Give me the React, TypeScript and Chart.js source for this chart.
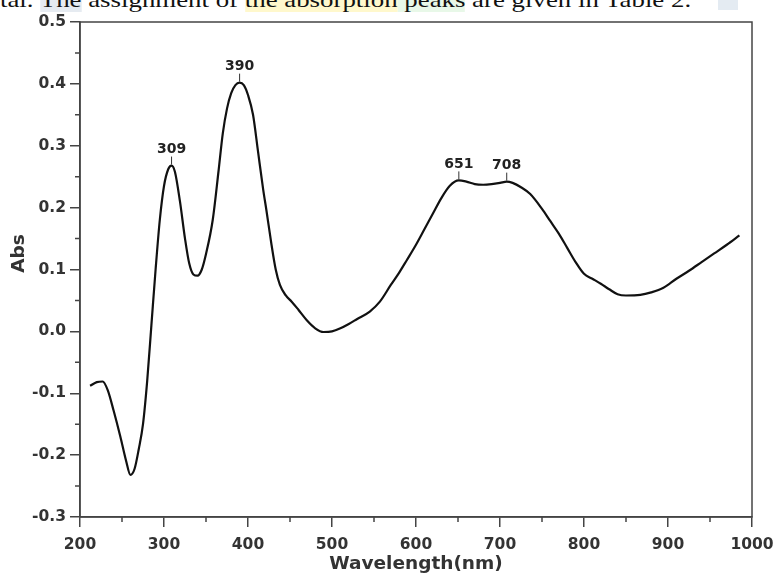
import React, { useEffect, useRef } from "react";
import { Chart, registerables } from "chart.js";

Chart.register(...registerables);

const wavelengths = [
  212, 220, 227, 233, 240, 248, 255, 260, 265, 270, 275, 280, 285, 290, 295, 300, 305, 309, 313, 319,
  325, 330, 335, 340, 345, 350, 358, 365, 370, 375, 380, 385, 390, 395, 400, 406, 412, 418, 422, 428,
  433, 438, 445, 452, 460, 470, 480, 490, 500, 510, 520, 530, 545, 557, 570, 580, 589, 600, 610, 620,
  630, 640, 651, 660, 670, 680, 690, 700, 708, 715, 725, 736, 750, 760, 770, 780, 790, 800, 810, 820,
  830, 840, 850, 867, 880, 894, 910, 925, 940, 955, 970, 985,
];
const absorbance = [
  -0.088, -0.082, -0.081, -0.095, -0.128, -0.17, -0.21, -0.232, -0.222, -0.19, -0.15, -0.08, 0.01, 0.1, 0.18, 0.235, 0.262, 0.268, 0.258, 0.21,
  0.15, 0.11, 0.092, 0.09, 0.1, 0.125, 0.18, 0.26, 0.32, 0.36, 0.385, 0.398, 0.402, 0.398, 0.382, 0.35, 0.29, 0.23, 0.195, 0.14,
  0.1, 0.075, 0.058, 0.048, 0.035, 0.018, 0.005, -0.001, 0.0, 0.005, 0.012, 0.02, 0.032, 0.048, 0.075, 0.095, 0.115, 0.14, 0.165, 0.19,
  0.215, 0.235, 0.244, 0.242, 0.238, 0.237, 0.238, 0.24, 0.242, 0.24, 0.233, 0.222, 0.198, 0.178, 0.158, 0.135, 0.112, 0.093, 0.085, 0.077,
  0.068, 0.06, 0.058, 0.059, 0.063, 0.07, 0.085, 0.098, 0.112, 0.126, 0.14, 0.155,
];
const peakWavelengths = [309, 390, 651, 708];
const peakAbs = [0.268, 0.402, 0.244, 0.242];
const peakLabels = ["309", "390", "651", "708"];

const xTitle = "Wavelength(nm)";
const yTitle = "Abs";
const xMin = 200, xMax = 1000, yMin = -0.3, yMax = 0.5;
const xStep = 100, yStep = 0.1;

const FONT = "'DejaVu Sans', Arial, sans-serif";
const AXIS = "#444";

const framePlugin = {
  id: "frame",
  afterDraw(chart: any) {
    const { ctx, chartArea: a, scales } = chart;
    ctx.save();
    ctx.strokeStyle = AXIS;
    ctx.lineWidth = 1.5;
    ctx.strokeRect(a.left, a.top, a.right - a.left, a.bottom - a.top);
    // minor ticks halfway between the axis' own major ticks
    const xt = scales.x.ticks.map((t: any) => t.value);
    const yt = scales.y.ticks.map((t: any) => t.value);
    ctx.beginPath();
    for (let i = 0; i < xt.length - 1; i++) {
      const px = scales.x.getPixelForValue((xt[i] + xt[i + 1]) / 2);
      ctx.moveTo(px, a.bottom);
      ctx.lineTo(px, a.bottom + 5);
    }
    for (let i = 0; i < yt.length - 1; i++) {
      const py = scales.y.getPixelForValue((yt[i] + yt[i + 1]) / 2);
      ctx.moveTo(a.left, py);
      ctx.lineTo(a.left - 5, py);
    }
    ctx.stroke();
    // y-axis title
    ctx.fillStyle = "#333";
    ctx.font = `bold 18.5px ${FONT}`;
    ctx.textAlign = "center";
    ctx.textBaseline = "middle";
    ctx.translate(19, (a.top + a.bottom) / 2 - 16);
    ctx.rotate(-Math.PI / 2);
    ctx.fillText(yTitle, 0, 0);
    ctx.restore();
  },
};

const peakPlugin = {
  id: "peaks",
  afterDatasetsDraw(chart: any) {
    const { ctx, scales } = chart;
    ctx.save();
    ctx.strokeStyle = "#333";
    ctx.lineWidth = 1;
    ctx.fillStyle = "#222";
    ctx.font = `bold 14px ${FONT}`;
    ctx.textAlign = "center";
    ctx.textBaseline = "bottom";
    peakWavelengths.forEach((w, i) => {
      const px = scales.x.getPixelForValue(w);
      const py = scales.y.getPixelForValue(peakAbs[i]);
      ctx.beginPath();
      ctx.moveTo(px, py - 1);
      ctx.lineTo(px, py - 9);
      ctx.stroke();
      ctx.fillText(peakLabels[i], px, py - 9);
    });
    ctx.restore();
  },
};

export default function App() {
  const ref = useRef<HTMLCanvasElement>(null);
  useEffect(() => {
    if (!ref.current) return;
    const chart = new Chart(ref.current, {
      type: "line",
      data: {
        datasets: [
          {
            data: wavelengths.map((w, i) => ({ x: w, y: absorbance[i] })),
            borderColor: "#111",
            borderWidth: 2.2,
            pointRadius: 0,
            fill: false,
            cubicInterpolationMode: "monotone",
          },
        ],
      },
      options: {
        animation: false,
        responsive: false,
        devicePixelRatio: 1,
        layout: { padding: { top: 22, right: 22, left: 0, bottom: 0 } },
        plugins: { legend: { display: false }, tooltip: { enabled: false } },
        scales: {
          x: {
            type: "linear",
            min: xMin,
            max: xMax,
            afterFit: (s: any) => { s.height = 57; s.paddingLeft = 0; s.paddingRight = 0; },
            border: { display: true, color: AXIS, width: 1.5 },
            grid: { drawOnChartArea: false, drawTicks: true, tickLength: 10, color: AXIS, lineWidth: 1.5 },
            ticks: {
              stepSize: xStep,
              autoSkip: false,
              maxRotation: 0,
              padding: 9,
              color: "#333",
              font: { family: FONT, size: 15.5, weight: "bold" },
              callback: (v: any) => String(v),
            },
            title: {
              display: true,
              text: xTitle,
              color: "#333",
              font: { family: FONT, size: 18.5, weight: "bold", lineHeight: 1 },
              padding: { top: 0, bottom: 1 },
            },
          },
          y: {
            type: "linear",
            min: yMin,
            max: yMax,
            afterFit: (s: any) => { s.width = 80; s.paddingTop = 0; s.paddingBottom = 0; },
            border: { display: true, color: AXIS, width: 1.5 },
            grid: { drawOnChartArea: false, drawTicks: true, tickLength: 10, color: AXIS, lineWidth: 1.5 },
            ticks: {
              stepSize: yStep,
              autoSkip: false,
              padding: 4,
              color: "#333",
              font: { family: FONT, size: 15.5, weight: "bold" },
              callback: (v: any) => Number(v).toFixed(1),
            },
          },
        },
      },
      plugins: [framePlugin, peakPlugin],
    } as any);
    return () => chart.destroy();
  }, []);

  return (
    <div style={{ position: "fixed", left: 0, top: 0, width: 774, height: 574, background: "#fff", overflow: "hidden" }}>
      <div
        style={{
          position: "absolute",
          left: 0,
          top: -11,
          whiteSpace: "nowrap",
          fontFamily: "'Liberation Serif', 'Times New Roman', serif",
          fontSize: 22,
          lineHeight: "22px",
          color: "#111",
          transform: "scaleX(1.22)",
          transformOrigin: "0 0",
        }}
      >
        tal. <span style={{ background: "#e6ebf1" }}>The</span> assignment of{" "}
        <span style={{ background: "#fff8cc" }}>the absorption</span>
        <span style={{ background: "#e8f8e8" }}> peaks</span> are given in Table 2.
      </div>
      <div style={{ position: "absolute", left: 718, top: 0, width: 20, height: 10, background: "#e4ebf2" }} />
      <canvas ref={ref} width={774} height={574} style={{ position: "absolute", left: 0, top: 0, width: 774, height: 574 }} />
    </div>
  );
}
